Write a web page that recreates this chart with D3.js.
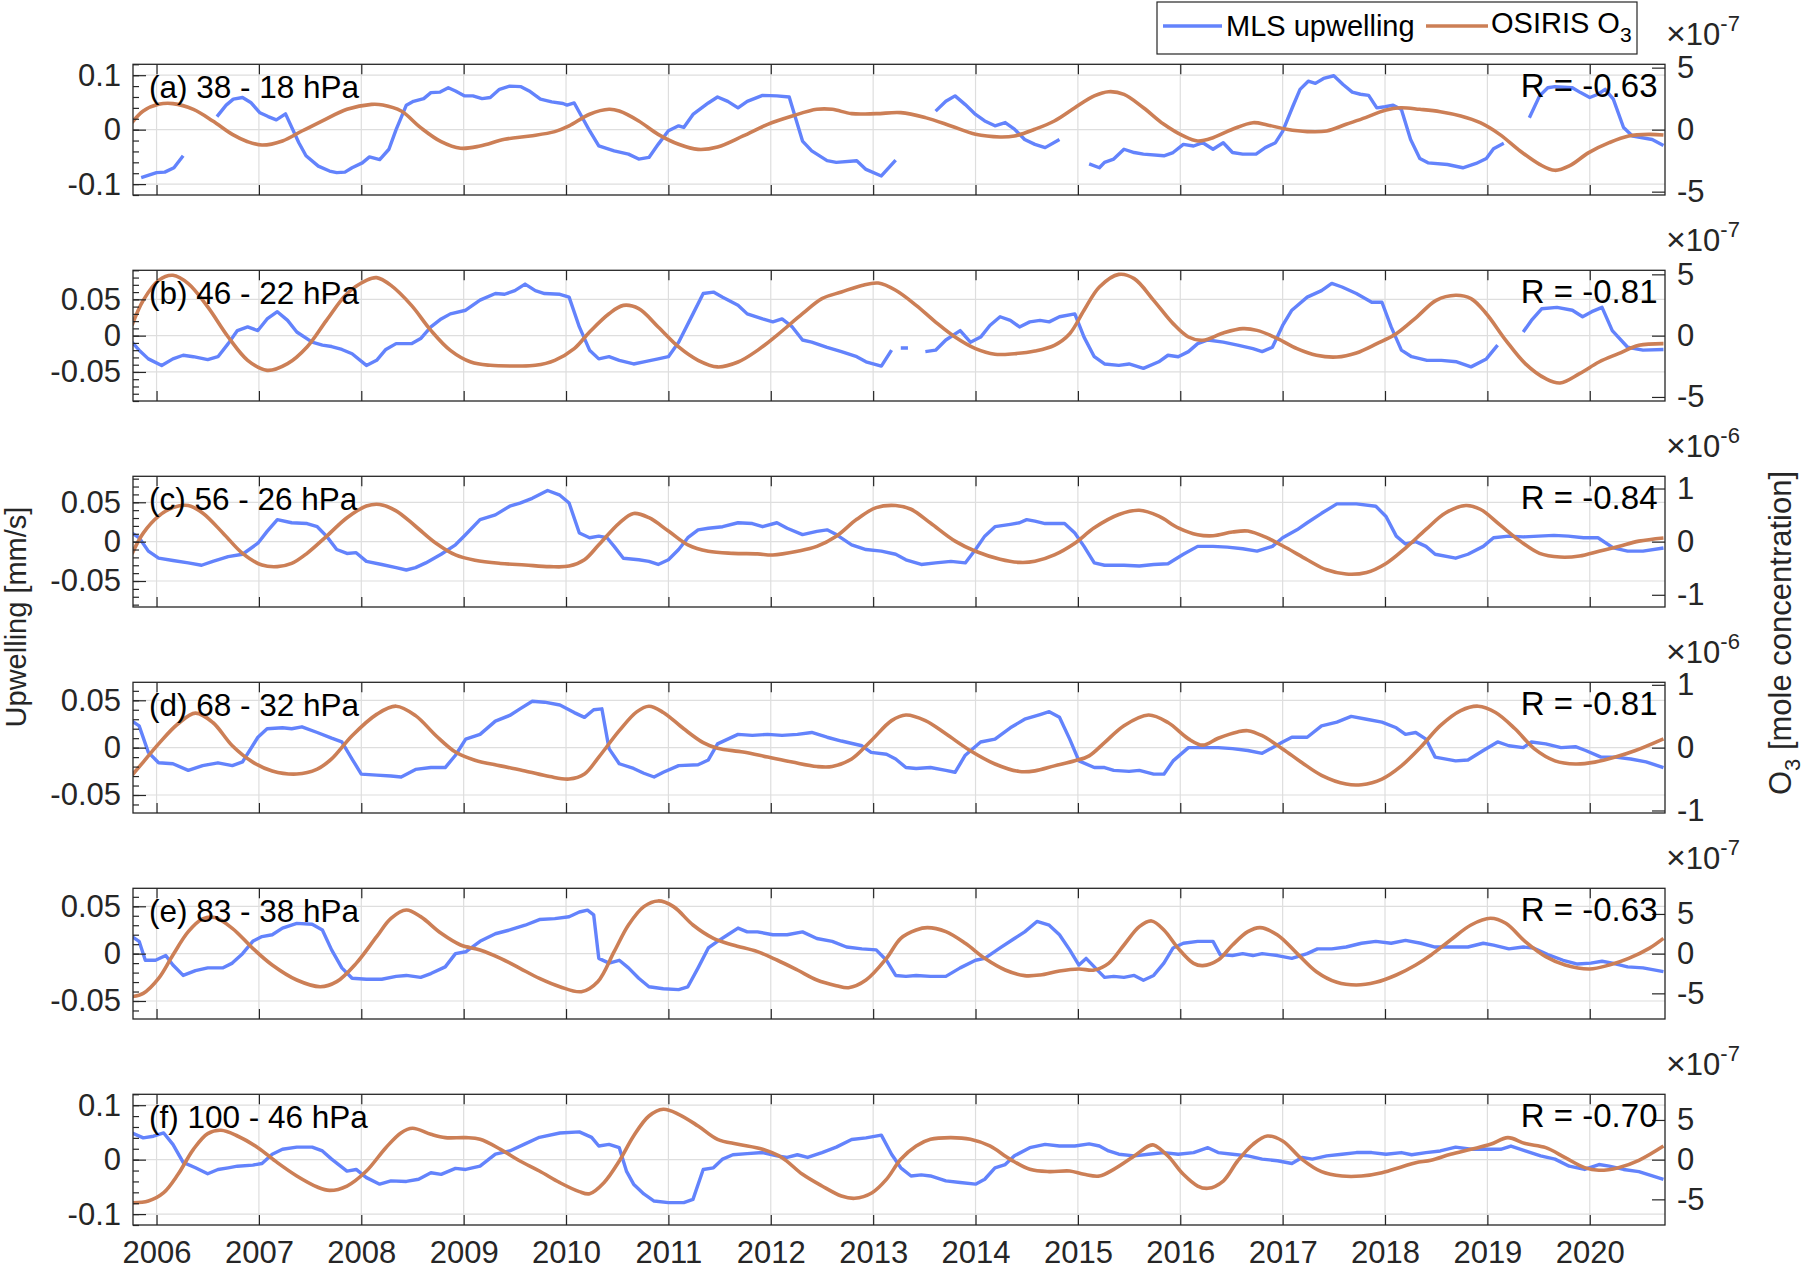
<!DOCTYPE html>
<html><head><meta charset="utf-8">
<script src="https://cdn.jsdelivr.net/npm/d3@7"></script>
<style>
body{margin:0;background:#fff}
text{font-family:"Liberation Sans",Arial,Helvetica,sans-serif}
</style>
</head><body>
<svg id="c" width="1805" height="1270"></svg>
<script>
// ---------- DATA ----------
const yearTicks = [2006,2007,2008,2009,2010,2011,2012,2013,2014,2015,2016,2017,2018,2019,2020];
const panelLabels = ["(a) 38 - 18 hPa","(b) 46 - 22 hPa","(c) 56 - 26 hPa","(d) 68 - 32 hPa","(e) 83 - 38 hPa","(f) 100 - 46 hPa"];
const rLabels = ["R = -0.63","R = -0.81","R = -0.84","R = -0.81","R = -0.63","R = -0.70"];
const o3Exponents = ["-7","-7","-6","-6","-7","-7"];
const leftTicks = [[-0.1,0,0.1],[-0.05,0,0.05],[-0.05,0,0.05],[-0.05,0,0.05],[-0.05,0,0.05],[-0.1,0,0.1]];
const rightTicks = [[-5,0,5],[-5,0,5],[-1,0,1],[-1,0,1],[-5,0,5],[-5,0,5]];
const leftLimits = [0.12,0.09,0.083,0.069,0.069,0.12];
const rightLimits = [5.27,5.33,1.23,1.04,8.23,8.23];
const minorSteps = [0.02,0.01,0.01,0.01,0.01,0.02];

// MLS upwelling [mm/s]  (null = data gap)
const mlsA = [[2005.85,-0.088],[2006.0,-0.079],[2006.08,-0.078],[2006.17,-0.070],[2006.26,-0.048],[2006.4,null],
[2006.59,0.024],[2006.68,0.045],[2006.75,0.056],[2006.84,0.059],[2006.92,0.050],[2007.01,0.031],[2007.09,0.024],[2007.17,0.018],[2007.26,0.029],[2007.39,-0.024],[2007.46,-0.048],[2007.58,-0.067],[2007.69,-0.076],[2007.76,-0.079],[2007.84,-0.078],[2007.91,-0.070],[2008.01,-0.061],[2008.08,-0.050],[2008.18,-0.055],[2008.27,-0.036],[2008.34,0.000],[2008.44,0.045],[2008.51,0.052],[2008.61,0.057],[2008.68,0.068],[2008.77,0.069],[2008.85,0.077],[2008.92,0.071],[2009.01,0.062],[2009.09,0.062],[2009.18,0.057],[2009.26,0.059],[2009.35,0.074],[2009.45,0.080],[2009.56,0.079],[2009.64,0.071],[2009.75,0.056],[2009.86,0.051],[2009.97,0.048],[2010.01,0.045],[2010.08,0.049],[2010.23,-0.002],[2010.32,-0.030],[2010.47,-0.039],[2010.61,-0.045],[2010.71,-0.054],[2010.81,-0.051],[2010.90,-0.027],[2011.00,-0.002],[2011.10,0.007],[2011.15,0.004],[2011.24,0.028],[2011.39,0.049],[2011.48,0.060],[2011.58,0.052],[2011.68,0.040],[2011.77,0.052],[2011.92,0.063],[2012.06,0.062],[2012.18,0.060],[2012.31,-0.021],[2012.40,-0.039],[2012.55,-0.057],[2012.64,-0.060],[2012.84,-0.057],[2012.93,-0.073],[2013.08,-0.085],[2013.22,-0.056],[2013.4,null],
[2013.61,0.034],[2013.71,0.052],[2013.80,0.062],[2013.90,0.046],[2014.00,0.028],[2014.09,0.016],[2014.19,0.007],[2014.29,0.013],[2014.38,0.001],[2014.48,-0.018],[2014.58,-0.027],[2014.68,-0.033],[2014.82,-0.018],[2015.0,null],
[2015.11,-0.063],[2015.21,-0.070],[2015.26,-0.060],[2015.35,-0.054],[2015.45,-0.036],[2015.55,-0.042],[2015.64,-0.045],[2015.84,-0.048],[2015.93,-0.042],[2016.03,-0.027],[2016.13,-0.030],[2016.22,-0.024],[2016.32,-0.036],[2016.42,-0.024],[2016.51,-0.042],[2016.61,-0.045],[2016.74,-0.045],[2016.83,-0.033],[2016.93,-0.024],[2017.00,-0.003],[2017.10,0.043],[2017.17,0.074],[2017.25,0.089],[2017.32,0.085],[2017.40,0.094],[2017.50,0.099],[2017.59,0.083],[2017.68,0.069],[2017.76,0.065],[2017.84,0.063],[2017.92,0.040],[2018.00,0.042],[2018.08,0.045],[2018.16,0.037],[2018.25,-0.018],[2018.34,-0.053],[2018.42,-0.061],[2018.61,-0.064],[2018.76,-0.070],[2018.89,-0.062],[2018.99,-0.053],[2019.06,-0.035],[2019.16,-0.025],[2019.3,null],
[2019.41,0.022],[2019.51,0.062],[2019.59,0.077],[2019.66,0.079],[2019.83,0.077],[2019.91,0.068],[2020.00,0.059],[2020.08,0.065],[2020.15,0.074],[2020.23,0.056],[2020.33,0.004],[2020.42,-0.012],[2020.61,-0.018],[2020.72,-0.029]];

const mlsB = [[2005.76,-0.009],[2005.83,-0.020],[2005.92,-0.032],[2006.05,-0.041],[2006.16,-0.032],[2006.26,-0.027],[2006.36,-0.029],[2006.50,-0.033],[2006.60,-0.029],[2006.70,-0.011],[2006.79,0.007],[2006.89,0.012],[2006.99,0.007],[2007.08,0.023],[2007.18,0.033],[2007.28,0.021],[2007.37,0.005],[2007.52,-0.009],[2007.62,-0.013],[2007.71,-0.015],[2007.81,-0.019],[2007.91,-0.025],[2008.05,-0.041],[2008.15,-0.034],[2008.24,-0.019],[2008.34,-0.011],[2008.49,-0.011],[2008.58,-0.004],[2008.68,0.012],[2008.78,0.023],[2008.87,0.030],[2009.02,0.035],[2009.16,0.049],[2009.31,0.058],[2009.40,0.057],[2009.50,0.062],[2009.60,0.071],[2009.70,0.062],[2009.79,0.058],[2009.94,0.057],[2010.03,0.053],[2010.13,0.012],[2010.23,-0.020],[2010.32,-0.032],[2010.42,-0.029],[2010.52,-0.034],[2010.66,-0.039],[2010.76,-0.036],[2010.90,-0.032],[2011.00,-0.029],[2011.10,-0.009],[2011.24,0.030],[2011.34,0.058],[2011.44,0.060],[2011.53,0.053],[2011.68,0.042],[2011.77,0.030],[2011.92,0.023],[2012.02,0.019],[2012.11,0.023],[2012.21,0.012],[2012.31,-0.006],[2012.40,-0.009],[2012.55,-0.016],[2012.69,-0.022],[2012.84,-0.029],[2012.93,-0.036],[2013.08,-0.042],[2013.18,-0.020],[2013.22,null],
[2013.27,-0.017],[2013.34,-0.017],[2013.4,null],
[2013.51,-0.022],[2013.61,-0.020],[2013.71,-0.006],[2013.85,0.007],[2013.95,-0.009],[2014.05,-0.002],[2014.14,0.014],[2014.24,0.026],[2014.34,0.021],[2014.43,0.012],[2014.53,0.019],[2014.63,0.021],[2014.72,0.019],[2014.82,0.026],[2014.97,0.030],[2015.06,-0.002],[2015.16,-0.029],[2015.26,-0.039],[2015.40,-0.041],[2015.50,-0.039],[2015.64,-0.045],[2015.79,-0.036],[2015.88,-0.027],[2015.98,-0.029],[2016.08,-0.022],[2016.17,-0.011],[2016.27,-0.006],[2016.42,-0.009],[2016.56,-0.013],[2016.71,-0.018],[2016.80,-0.022],[2016.90,-0.016],[2017.00,0.014],[2017.09,0.035],[2017.24,0.053],[2017.38,0.062],[2017.48,0.072],[2017.58,0.067],[2017.72,0.058],[2017.87,0.046],[2017.97,0.046],[2018.06,0.012],[2018.16,-0.020],[2018.26,-0.029],[2018.41,-0.034],[2018.55,-0.034],[2018.70,-0.036],[2018.84,-0.043],[2018.99,-0.032],[2019.10,-0.013],[2019.2,null],
[2019.35,0.005],[2019.43,0.021],[2019.53,0.037],[2019.68,0.039],[2019.83,0.035],[2019.93,0.026],[2020.02,0.033],[2020.12,0.039],[2020.22,0.007],[2020.37,-0.016],[2020.52,-0.020],[2020.72,-0.019]];

const mlsC = [[2005.76,0.011],[2005.83,0.005],[2005.92,-0.012],[2006.02,-0.021],[2006.16,-0.024],[2006.31,-0.027],[2006.44,-0.030],[2006.55,-0.025],[2006.70,-0.019],[2006.84,-0.016],[2006.99,-0.002],[2007.08,0.013],[2007.18,0.028],[2007.32,0.024],[2007.47,0.023],[2007.57,0.019],[2007.66,0.007],[2007.76,-0.010],[2007.86,-0.015],[2007.95,-0.014],[2008.05,-0.025],[2008.20,-0.029],[2008.34,-0.033],[2008.44,-0.036],[2008.53,-0.033],[2008.63,-0.027],[2008.78,-0.016],[2008.92,-0.004],[2009.02,0.009],[2009.16,0.028],[2009.31,0.034],[2009.45,0.045],[2009.55,0.049],[2009.67,0.055],[2009.82,0.065],[2009.94,0.059],[2010.03,0.049],[2010.13,0.011],[2010.23,0.005],[2010.32,0.007],[2010.40,0.005],[2010.47,-0.006],[2010.56,-0.021],[2010.71,-0.023],[2010.81,-0.025],[2010.90,-0.029],[2011.00,-0.023],[2011.10,-0.010],[2011.19,0.005],[2011.29,0.015],[2011.39,0.017],[2011.53,0.019],[2011.68,0.024],[2011.82,0.023],[2011.92,0.019],[2012.06,0.024],[2012.16,0.017],[2012.31,0.009],[2012.45,0.013],[2012.55,0.015],[2012.64,0.009],[2012.79,-0.004],[2012.93,-0.010],[2013.08,-0.012],[2013.22,-0.016],[2013.32,-0.023],[2013.47,-0.029],[2013.61,-0.027],[2013.76,-0.025],[2013.90,-0.027],[2014.00,-0.010],[2014.09,0.007],[2014.19,0.019],[2014.34,0.022],[2014.43,0.024],[2014.50,0.028],[2014.58,0.026],[2014.68,0.023],[2014.87,0.023],[2014.97,0.011],[2015.06,-0.006],[2015.16,-0.027],[2015.26,-0.030],[2015.45,-0.030],[2015.60,-0.031],[2015.74,-0.029],[2015.88,-0.028],[2016.03,-0.016],[2016.17,-0.006],[2016.32,-0.006],[2016.46,-0.007],[2016.61,-0.009],[2016.75,-0.012],[2016.90,-0.006],[2017.00,0.005],[2017.14,0.015],[2017.24,0.024],[2017.38,0.036],[2017.53,0.048],[2017.72,0.048],[2017.91,0.045],[2018.01,0.032],[2018.11,0.007],[2018.20,-0.003],[2018.30,0.000],[2018.40,-0.006],[2018.49,-0.016],[2018.69,-0.021],[2018.81,-0.016],[2018.96,-0.006],[2019.06,0.005],[2019.21,0.007],[2019.35,0.006],[2019.50,0.007],[2019.65,0.008],[2019.79,0.007],[2019.94,0.005],[2020.08,0.005],[2020.23,-0.008],[2020.37,-0.012],[2020.52,-0.012],[2020.72,-0.008]];

const mlsD = [[2005.76,0.028],[2005.83,0.023],[2005.92,-0.005],[2006.02,-0.016],[2006.16,-0.017],[2006.31,-0.024],[2006.45,-0.019],[2006.60,-0.016],[2006.74,-0.019],[2006.84,-0.015],[2006.99,0.011],[2007.08,0.020],[2007.23,0.021],[2007.32,0.020],[2007.42,0.022],[2007.57,0.016],[2007.71,0.010],[2007.81,0.006],[2007.91,-0.012],[2008.00,-0.028],[2008.15,-0.029],[2008.29,-0.030],[2008.39,-0.031],[2008.53,-0.023],[2008.68,-0.021],[2008.82,-0.021],[2008.92,-0.008],[2009.02,0.009],[2009.16,0.014],[2009.31,0.028],[2009.45,0.034],[2009.55,0.041],[2009.67,0.049],[2009.79,0.048],[2009.94,0.045],[2010.08,0.037],[2010.18,0.032],[2010.27,0.040],[2010.35,0.041],[2010.42,-0.001],[2010.52,-0.017],[2010.66,-0.022],[2010.76,-0.027],[2010.86,-0.031],[2010.95,-0.026],[2011.10,-0.019],[2011.29,-0.018],[2011.39,-0.013],[2011.48,0.004],[2011.58,0.009],[2011.68,0.014],[2011.82,0.013],[2011.97,0.014],[2012.11,0.013],[2012.26,0.014],[2012.40,0.016],[2012.55,0.011],[2012.69,0.007],[2012.89,0.002],[2012.98,-0.005],[2013.13,-0.007],[2013.22,-0.012],[2013.32,-0.021],[2013.42,-0.022],[2013.56,-0.021],[2013.71,-0.024],[2013.80,-0.026],[2013.90,-0.008],[2014.05,0.006],[2014.19,0.009],[2014.34,0.021],[2014.48,0.030],[2014.63,0.035],[2014.72,0.038],[2014.82,0.032],[2014.92,0.009],[2015.01,-0.014],[2015.16,-0.021],[2015.26,-0.021],[2015.35,-0.024],[2015.50,-0.025],[2015.60,-0.024],[2015.74,-0.028],[2015.84,-0.028],[2015.93,-0.014],[2016.08,0.000],[2016.22,0.000],[2016.37,0.000],[2016.51,-0.001],[2016.66,-0.003],[2016.80,-0.006],[2016.90,0.000],[2017.00,0.006],[2017.09,0.011],[2017.24,0.011],[2017.38,0.023],[2017.53,0.027],[2017.67,0.033],[2017.82,0.030],[2017.97,0.027],[2018.11,0.021],[2018.20,0.014],[2018.30,0.016],[2018.40,0.009],[2018.49,-0.010],[2018.69,-0.014],[2018.81,-0.013],[2018.96,-0.003],[2019.10,0.006],[2019.21,0.002],[2019.35,0.000],[2019.43,0.006],[2019.57,0.004],[2019.72,0.000],[2019.86,0.001],[2019.96,-0.003],[2020.11,-0.010],[2020.25,-0.010],[2020.40,-0.012],[2020.55,-0.015],[2020.72,-0.021]];

const mlsE = [[2005.76,0.018],[2005.83,0.013],[2005.89,-0.007],[2005.99,-0.007],[2006.09,-0.002],[2006.16,-0.012],[2006.26,-0.023],[2006.38,-0.018],[2006.50,-0.015],[2006.65,-0.015],[2006.74,-0.010],[2006.84,0.000],[2006.94,0.013],[2007.03,0.018],[2007.13,0.020],[2007.23,0.027],[2007.37,0.032],[2007.52,0.031],[2007.62,0.025],[2007.71,0.004],[2007.81,-0.015],[2007.91,-0.026],[2008.05,-0.027],[2008.20,-0.027],[2008.34,-0.024],[2008.44,-0.023],[2008.58,-0.025],[2008.68,-0.021],[2008.82,-0.014],[2008.92,0.000],[2009.02,0.002],[2009.16,0.013],[2009.31,0.021],[2009.45,0.025],[2009.60,0.030],[2009.74,0.036],[2009.89,0.037],[2010.03,0.039],[2010.13,0.044],[2010.21,0.046],[2010.27,0.041],[2010.32,-0.005],[2010.42,-0.010],[2010.52,-0.007],[2010.61,-0.015],[2010.71,-0.026],[2010.81,-0.035],[2010.95,-0.037],[2011.10,-0.038],[2011.19,-0.035],[2011.29,-0.015],[2011.39,0.006],[2011.48,0.013],[2011.58,0.020],[2011.68,0.027],[2011.77,0.023],[2011.87,0.023],[2012.02,0.020],[2012.16,0.020],[2012.31,0.023],[2012.45,0.016],[2012.60,0.013],[2012.74,0.007],[2012.89,0.005],[2013.03,0.004],[2013.13,-0.007],[2013.22,-0.023],[2013.32,-0.024],[2013.42,-0.023],[2013.56,-0.024],[2013.71,-0.024],[2013.85,-0.015],[2014.00,-0.007],[2014.09,-0.005],[2014.24,0.006],[2014.38,0.016],[2014.48,0.023],[2014.60,0.034],[2014.72,0.030],[2014.82,0.020],[2014.92,0.004],[2015.01,-0.012],[2015.08,-0.005],[2015.16,-0.014],[2015.26,-0.025],[2015.35,-0.024],[2015.45,-0.025],[2015.55,-0.023],[2015.64,-0.028],[2015.74,-0.023],[2015.84,-0.010],[2015.93,0.006],[2016.03,0.011],[2016.17,0.013],[2016.32,0.013],[2016.39,-0.001],[2016.51,-0.002],[2016.61,0.000],[2016.71,-0.002],[2016.80,0.000],[2016.95,-0.002],[2017.09,-0.005],[2017.24,0.000],[2017.34,0.005],[2017.48,0.005],[2017.62,0.007],[2017.77,0.011],[2017.91,0.013],[2018.06,0.011],[2018.20,0.014],[2018.35,0.011],[2018.49,0.007],[2018.69,0.007],[2018.81,0.007],[2018.96,0.011],[2019.06,0.009],[2019.21,0.005],[2019.35,0.007],[2019.45,0.006],[2019.59,-0.001],[2019.74,-0.007],[2019.88,-0.011],[2020.01,-0.010],[2020.12,-0.008],[2020.22,-0.010],[2020.37,-0.014],[2020.52,-0.015],[2020.72,-0.019]];

const mlsF = [[2005.76,0.049],[2005.87,0.040],[2005.97,0.043],[2006.07,0.049],[2006.16,0.028],[2006.26,-0.005],[2006.38,-0.015],[2006.50,-0.026],[2006.60,-0.018],[2006.70,-0.015],[2006.79,-0.012],[2006.94,-0.010],[2007.03,-0.007],[2007.13,0.010],[2007.23,0.019],[2007.37,0.023],[2007.52,0.023],[2007.62,0.016],[2007.71,0.001],[2007.86,-0.021],[2007.95,-0.018],[2008.05,-0.033],[2008.18,-0.045],[2008.29,-0.039],[2008.44,-0.040],[2008.56,-0.036],[2008.68,-0.024],[2008.78,-0.027],[2008.92,-0.016],[2009.02,-0.018],[2009.16,-0.012],[2009.31,0.010],[2009.45,0.016],[2009.60,0.029],[2009.74,0.041],[2009.94,0.049],[2010.13,0.051],[2010.25,0.041],[2010.32,0.025],[2010.42,0.028],[2010.52,0.022],[2010.59,-0.021],[2010.66,-0.045],[2010.76,-0.063],[2010.86,-0.076],[2011.00,-0.079],[2011.15,-0.079],[2011.24,-0.073],[2011.34,-0.018],[2011.44,-0.015],[2011.53,0.001],[2011.63,0.009],[2011.77,0.011],[2011.92,0.013],[2012.06,0.007],[2012.16,0.004],[2012.26,0.009],[2012.36,0.004],[2012.50,0.013],[2012.64,0.023],[2012.79,0.037],[2012.93,0.040],[2013.08,0.045],[2013.18,0.010],[2013.27,-0.015],[2013.37,-0.030],[2013.47,-0.028],[2013.56,-0.030],[2013.71,-0.039],[2013.85,-0.042],[2014.00,-0.045],[2014.09,-0.036],[2014.19,-0.015],[2014.29,-0.009],[2014.38,0.007],[2014.53,0.022],[2014.68,0.028],[2014.82,0.025],[2014.97,0.025],[2015.11,0.029],[2015.21,0.025],[2015.30,0.016],[2015.40,0.010],[2015.55,0.007],[2015.69,0.010],[2015.84,0.013],[2015.98,0.010],[2016.13,0.013],[2016.27,0.022],[2016.37,0.013],[2016.51,0.010],[2016.66,0.007],[2016.80,0.001],[2016.95,-0.002],[2017.09,-0.007],[2017.19,0.004],[2017.29,0.001],[2017.43,0.007],[2017.58,0.010],[2017.72,0.013],[2017.87,0.013],[2018.01,0.010],[2018.16,0.013],[2018.26,0.009],[2018.40,0.013],[2018.54,0.016],[2018.69,0.023],[2018.84,0.019],[2018.99,0.019],[2019.13,0.019],[2019.23,0.025],[2019.37,0.016],[2019.52,0.007],[2019.66,0.001],[2019.80,-0.012],[2019.95,-0.018],[2020.09,-0.009],[2020.19,-0.012],[2020.33,-0.018],[2020.48,-0.022],[2020.72,-0.036]];

// OSIRIS O3 [mole concentration] in units of the panel exponent
const osiA = [[2005.76,0.56],[2005.87,1.5],[2006.02,2.04],[2006.16,2.1],[2006.36,1.64],[2006.55,0.7],[2006.74,-0.38],[2006.89,-0.97],[2007.03,-1.24],[2007.23,-0.91],[2007.42,-0.11],[2007.62,0.7],[2007.86,1.64],[2008.10,2.04],[2008.21,1.99],[2008.39,1.5],[2008.58,0.16],[2008.78,-0.97],[2008.97,-1.5],[2009.16,-1.32],[2009.40,-0.78],[2009.65,-0.51],[2009.89,-0.16],[2010.03,0.30],[2010.23,1.24],[2010.42,1.64],[2010.52,1.5],[2010.71,0.70],[2010.90,-0.38],[2011.10,-1.18],[2011.29,-1.59],[2011.48,-1.40],[2011.73,-0.51],[2011.97,0.43],[2012.21,1.10],[2012.45,1.64],[2012.60,1.64],[2012.79,1.29],[2013.03,1.29],[2013.27,1.37],[2013.51,0.97],[2013.76,0.30],[2014.00,-0.38],[2014.24,-0.59],[2014.38,-0.51],[2014.58,0.03],[2014.77,0.70],[2014.97,1.77],[2015.16,2.72],[2015.30,3.06],[2015.45,2.85],[2015.64,1.77],[2015.84,0.43],[2016.03,-0.51],[2016.17,-0.91],[2016.32,-0.65],[2016.51,0.03],[2016.71,0.56],[2016.85,0.38],[2017.04,0.03],[2017.24,-0.16],[2017.43,-0.11],[2017.62,0.43],[2017.81,0.97],[2018.00,1.56],[2018.15,1.77],[2018.34,1.64],[2018.54,1.45],[2018.74,1.10],[2018.93,0.56],[2019.12,-0.38],[2019.32,-1.72],[2019.51,-2.80],[2019.66,-3.28],[2019.80,-2.93],[2019.99,-1.85],[2020.19,-1.05],[2020.38,-0.51],[2020.58,-0.38],[2020.72,-0.43]];

const osiB = [[2005.76,0.84],[2005.87,2.88],[2006.02,4.51],[2006.16,4.92],[2006.31,4.24],[2006.50,2.34],[2006.70,-0.11],[2006.89,-2.01],[2007.08,-2.83],[2007.28,-2.28],[2007.47,-0.92],[2007.66,1.25],[2007.86,3.42],[2008.05,4.51],[2008.15,4.73],[2008.29,4.10],[2008.49,2.47],[2008.68,0.43],[2008.87,-1.20],[2009.07,-2.15],[2009.26,-2.42],[2009.50,-2.47],[2009.70,-2.42],[2009.89,-2.01],[2010.08,-1.06],[2010.23,0.30],[2010.42,1.79],[2010.56,2.47],[2010.71,2.20],[2010.90,0.71],[2011.10,-0.92],[2011.29,-2.01],[2011.48,-2.55],[2011.68,-2.15],[2011.87,-1.20],[2012.06,0.03],[2012.31,1.79],[2012.50,3.02],[2012.69,3.56],[2012.89,4.10],[2013.05,4.29],[2013.22,3.70],[2013.42,2.47],[2013.61,1.11],[2013.80,-0.11],[2014.00,-1.06],[2014.19,-1.52],[2014.38,-1.47],[2014.58,-1.25],[2014.77,-0.79],[2014.92,0.16],[2015.06,2.07],[2015.21,3.97],[2015.40,5.0],[2015.55,4.65],[2015.74,2.88],[2015.93,0.98],[2016.08,-0.11],[2016.22,-0.38],[2016.42,0.22],[2016.61,0.57],[2016.75,0.43],[2016.95,-0.24],[2017.14,-1.06],[2017.33,-1.60],[2017.53,-1.74],[2017.72,-1.41],[2017.92,-0.65],[2018.11,0.16],[2018.31,1.52],[2018.50,2.88],[2018.69,3.29],[2018.84,3.02],[2018.99,1.79],[2019.18,-0.38],[2019.37,-2.28],[2019.57,-3.51],[2019.71,-3.86],[2019.90,-3.10],[2020.09,-2.15],[2020.28,-1.47],[2020.48,-0.79],[2020.72,-0.65]];

const osiC = [[2005.76,-0.23],[2005.87,0.16],[2006.02,0.48],[2006.16,0.64],[2006.31,0.68],[2006.45,0.54],[2006.65,0.16],[2006.84,-0.22],[2007.03,-0.44],[2007.18,-0.47],[2007.32,-0.41],[2007.47,-0.22],[2007.66,0.10],[2007.86,0.45],[2008.05,0.67],[2008.18,0.70],[2008.34,0.58],[2008.53,0.29],[2008.73,-0.03],[2008.92,-0.25],[2009.11,-0.35],[2009.36,-0.41],[2009.60,-0.44],[2009.84,-0.47],[2010.03,-0.46],[2010.18,-0.34],[2010.32,-0.06],[2010.52,0.35],[2010.66,0.53],[2010.81,0.45],[2011.00,0.20],[2011.19,-0.06],[2011.39,-0.18],[2011.63,-0.22],[2011.87,-0.23],[2012.02,-0.25],[2012.26,-0.18],[2012.45,-0.09],[2012.64,0.10],[2012.84,0.42],[2013.03,0.64],[2013.22,0.68],[2013.37,0.61],[2013.56,0.35],[2013.80,0.01],[2014.00,-0.18],[2014.24,-0.33],[2014.43,-0.39],[2014.58,-0.37],[2014.77,-0.25],[2014.97,-0.03],[2015.16,0.26],[2015.40,0.51],[2015.60,0.59],[2015.79,0.48],[2015.98,0.26],[2016.17,0.13],[2016.32,0.11],[2016.51,0.18],[2016.66,0.20],[2016.85,0.07],[2017.04,-0.12],[2017.24,-0.34],[2017.43,-0.53],[2017.62,-0.61],[2017.82,-0.58],[2018.01,-0.41],[2018.20,-0.12],[2018.40,0.23],[2018.59,0.54],[2018.79,0.68],[2018.93,0.61],[2019.12,0.32],[2019.32,0.01],[2019.51,-0.22],[2019.71,-0.29],[2019.90,-0.27],[2020.09,-0.18],[2020.28,-0.09],[2020.48,0.01],[2020.72,0.07]];

const osiD = [[2005.76,-0.44],[2005.87,-0.23],[2006.02,0.06],[2006.21,0.38],[2006.38,0.55],[2006.55,0.40],[2006.74,0.03],[2006.94,-0.23],[2007.13,-0.37],[2007.37,-0.42],[2007.57,-0.34],[2007.71,-0.18],[2007.91,0.19],[2008.15,0.53],[2008.34,0.66],[2008.53,0.51],[2008.73,0.19],[2008.92,-0.07],[2009.11,-0.20],[2009.36,-0.29],[2009.60,-0.37],[2009.84,-0.46],[2010.03,-0.50],[2010.18,-0.42],[2010.32,-0.15],[2010.52,0.27],[2010.69,0.57],[2010.81,0.66],[2010.95,0.56],[2011.15,0.30],[2011.34,0.08],[2011.48,-0.01],[2011.73,-0.07],[2011.97,-0.15],[2012.21,-0.23],[2012.45,-0.30],[2012.60,-0.30],[2012.79,-0.18],[2012.98,0.11],[2013.18,0.43],[2013.32,0.52],[2013.51,0.43],[2013.71,0.22],[2013.95,-0.05],[2014.19,-0.26],[2014.43,-0.38],[2014.58,-0.37],[2014.77,-0.29],[2014.97,-0.21],[2015.11,-0.13],[2015.26,0.08],[2015.45,0.35],[2015.69,0.52],[2015.88,0.40],[2016.08,0.14],[2016.22,0.04],[2016.37,0.15],[2016.56,0.25],[2016.66,0.27],[2016.80,0.19],[2017.00,-0.02],[2017.19,-0.24],[2017.38,-0.44],[2017.62,-0.58],[2017.77,-0.59],[2017.97,-0.50],[2018.16,-0.29],[2018.35,0.01],[2018.54,0.35],[2018.74,0.59],[2018.91,0.66],[2019.08,0.56],[2019.27,0.30],[2019.46,-0.02],[2019.66,-0.21],[2019.86,-0.26],[2020.05,-0.23],[2020.25,-0.15],[2020.44,-0.05],[2020.72,0.14]];

const osiE = [[2005.76,-5.42],[2005.87,-5.0],[2006.02,-3.11],[2006.16,-0.17],[2006.31,2.77],[2006.45,4.37],[2006.57,4.54],[2006.74,3.19],[2006.94,0.67],[2007.13,-1.43],[2007.37,-3.32],[2007.60,-4.16],[2007.76,-3.53],[2007.95,-1.22],[2008.15,2.14],[2008.29,4.45],[2008.44,5.50],[2008.58,4.66],[2008.78,2.56],[2008.97,1.09],[2009.16,0.46],[2009.36,-0.59],[2009.55,-1.85],[2009.74,-3.11],[2009.94,-4.16],[2010.15,-4.79],[2010.31,-3.53],[2010.47,0.25],[2010.61,3.61],[2010.76,5.92],[2010.90,6.64],[2011.05,5.92],[2011.24,3.61],[2011.44,1.93],[2011.63,1.09],[2011.87,0.25],[2012.06,-0.80],[2012.26,-2.06],[2012.45,-3.32],[2012.64,-4.03],[2012.76,-4.29],[2012.93,-3.32],[2013.13,-0.59],[2013.27,1.93],[2013.42,2.98],[2013.53,3.28],[2013.71,2.77],[2013.90,1.30],[2014.09,-0.59],[2014.29,-2.06],[2014.48,-2.77],[2014.63,-2.69],[2014.82,-2.18],[2015.01,-1.93],[2015.16,-2.06],[2015.30,-1.22],[2015.45,1.09],[2015.60,3.40],[2015.72,4.12],[2015.84,2.98],[2015.98,0.67],[2016.13,-1.22],[2016.22,-1.51],[2016.37,-0.80],[2016.51,1.09],[2016.66,2.77],[2016.78,3.28],[2016.95,2.35],[2017.14,0.04],[2017.33,-2.27],[2017.53,-3.61],[2017.72,-3.95],[2017.91,-3.61],[2018.11,-2.69],[2018.30,-1.43],[2018.45,-0.17],[2018.64,1.72],[2018.84,3.61],[2019.03,4.45],[2019.18,3.82],[2019.37,1.51],[2019.57,-0.38],[2019.76,-1.43],[2020.00,-1.93],[2020.19,-1.43],[2020.38,-0.59],[2020.58,0.67],[2020.72,1.93]];

const osiF = [[2005.76,-5.42],[2005.92,-5.21],[2006.07,-4.16],[2006.21,-1.85],[2006.36,1.30],[2006.50,3.28],[2006.63,3.70],[2006.79,2.98],[2006.99,1.51],[2007.18,-0.38],[2007.37,-2.06],[2007.57,-3.45],[2007.69,-3.87],[2007.86,-3.32],[2008.05,-1.43],[2008.24,1.51],[2008.39,3.40],[2008.50,3.95],[2008.68,3.19],[2008.82,2.77],[2009.02,2.77],[2009.16,2.56],[2009.36,1.30],[2009.55,-0.17],[2009.74,-1.43],[2009.94,-2.90],[2010.13,-4.03],[2010.23,-4.29],[2010.37,-2.90],[2010.52,-0.17],[2010.66,2.98],[2010.81,5.50],[2010.95,6.34],[2011.10,5.71],[2011.29,4.24],[2011.48,2.56],[2011.68,1.93],[2011.92,1.30],[2012.11,0.25],[2012.31,-1.85],[2012.50,-3.32],[2012.69,-4.58],[2012.82,-4.87],[2012.99,-4.16],[2013.13,-2.48],[2013.27,0.04],[2013.42,1.72],[2013.56,2.56],[2013.76,2.77],[2013.95,2.56],[2014.14,1.72],[2014.34,0.04],[2014.53,-1.22],[2014.72,-1.51],[2014.92,-1.43],[2015.06,-1.85],[2015.21,-2.06],[2015.35,-1.22],[2015.55,0.46],[2015.69,1.72],[2015.74,1.85],[2015.88,0.46],[2016.03,-1.85],[2016.17,-3.32],[2016.27,-3.61],[2016.42,-2.69],[2016.56,-0.17],[2016.71,1.93],[2016.85,2.98],[2017.00,2.35],[2017.19,0.04],[2017.38,-1.51],[2017.58,-2.06],[2017.77,-2.06],[2017.97,-1.64],[2018.16,-0.92],[2018.30,-0.38],[2018.45,-0.08],[2018.64,0.67],[2018.84,1.30],[2019.03,1.93],[2019.20,2.77],[2019.37,2.02],[2019.57,1.51],[2019.76,0.25],[2019.95,-1.01],[2020.09,-1.34],[2020.28,-1.01],[2020.48,-0.08],[2020.72,1.72]];

const mlsSeries = [mlsA,mlsB,mlsC,mlsD,mlsE,mlsF];
const osiSeries = [osiA,osiB,osiC,osiD,osiE,osiF];

// ---------- LAYOUT ----------
const PL = 133, PR = 1665, PH = 130.7;
const tops = [64.3,270.3,476.3,682.3,888.3,1094.3];
const BLUE = "#6383fc", ORANGE = "#cc7f56", AX = "#262626", GRID = "#dedede";
const FS = 31;

const svg = d3.select("#c");
const x = d3.scaleLinear().domain([2005.77, 2020.735]).range([PL, PR]);
const defs = svg.append("defs");

function styleAxis(g){
  g.select(".domain").remove();
  g.selectAll(".tick line").attr("stroke", AX).attr("stroke-width", 1.2);
  g.selectAll(".tick text").attr("fill", AX).attr("font-size", FS)
   .attr("font-family", '"Liberation Sans",Arial,Helvetica,sans-serif');
}

mlsSeries.forEach((mls, i) => {
  const top = tops[i], bot = top + PH;
  const yl = d3.scaleLinear().domain([-leftLimits[i], leftLimits[i]]).range([bot, top]);
  const yr = d3.scaleLinear().domain([-rightLimits[i], rightLimits[i]]).range([bot, top]);
  const g = svg.append("g");

  // grid
  g.selectAll(null).data(yearTicks).enter().append("line")
    .attr("x1", d => x(d)).attr("x2", d => x(d)).attr("y1", top).attr("y2", bot)
    .attr("stroke", GRID).attr("stroke-width", 1.2);
  g.selectAll(null).data(leftTicks[i]).enter().append("line")
    .attr("x1", PL).attr("x2", PR).attr("y1", d => yl(d)).attr("y2", d => yl(d))
    .attr("stroke", GRID).attr("stroke-width", 1.2);

  // clip
  defs.append("clipPath").attr("id", "clip" + i).append("rect")
    .attr("x", PL).attr("y", top).attr("width", PR - PL).attr("height", PH);

  const lineB = d3.line().defined(d => d[1] !== null).x(d => x(d[0])).y(d => yl(d[1]));
  const lineO = d3.line().x(d => x(d[0])).y(d => yr(d[1])).curve(d3.curveCatmullRom.alpha(0.5));

  g.append("path").attr("d", lineB(mls)).attr("clip-path", `url(#clip${i})`)
    .attr("fill", "none").attr("stroke", BLUE).attr("stroke-width", 3.4)
    .attr("stroke-linejoin", "round");
  g.append("path").attr("d", lineO(osiSeries[i])).attr("clip-path", `url(#clip${i})`)
    .attr("fill", "none").attr("stroke", ORANGE).attr("stroke-width", 3.6)
    .attr("stroke-linejoin", "round");

  // axes
  const xb = g.append("g").attr("transform", `translate(0,${bot})`)
    .call(d3.axisBottom(x).tickValues(yearTicks).tickSize(-10).tickPadding(16)
      .tickFormat(i === 5 ? d => String(d) : () => ""));
  styleAxis(xb);
  const xt = g.append("g").attr("transform", `translate(0,${top})`)
    .call(d3.axisTop(x).tickValues(yearTicks).tickSize(-10).tickFormat(() => ""));
  styleAxis(xt);

  const minor = d3.range(-Math.floor(leftLimits[i] / minorSteps[i] + 1e-9), Math.floor(leftLimits[i] / minorSteps[i] + 1e-9) + 1)
    .map(k => +(k * minorSteps[i]).toFixed(4));
  const ym = g.append("g").attr("transform", `translate(${PL},0)`)
    .call(d3.axisLeft(yl).tickValues(minor).tickSize(-6).tickFormat(() => ""));
  styleAxis(ym);
  const ylA = g.append("g").attr("transform", `translate(${PL},0)`)
    .call(d3.axisLeft(yl).tickValues(leftTicks[i]).tickSize(-13).tickPadding(12).tickFormat(d => String(d)));
  styleAxis(ylA);
  const yrA = g.append("g").attr("transform", `translate(${PR},0)`)
    .call(d3.axisRight(yr).tickValues(rightTicks[i]).tickSize(-13).tickPadding(12).tickFormat(d => String(d)));
  styleAxis(yrA);

  // box
  g.append("rect").attr("x", PL).attr("y", top).attr("width", PR - PL).attr("height", PH)
    .attr("fill", "none").attr("stroke", AX).attr("stroke-width", 1.3);

  // labels
  g.append("text").attr("x", PL + 16).attr("y", top + 34).attr("font-size", 31.5).attr("fill", "#000")
    .text(panelLabels[i]);
  g.append("text").attr("x", PR - 7.5).attr("y", top + 33).attr("font-size", 33).attr("fill", "#000")
    .attr("text-anchor", "end").text(rLabels[i]);

  // exponent
  const ex = g.append("text").attr("x", 1666).attr("y", top - 19).attr("font-size", 31).attr("fill", AX);
  ex.append("tspan").attr("font-size", 34).text("\u00d7");
  ex.append("tspan").text("10");
  ex.append("tspan").attr("font-size", 22).attr("dy", -14).text(o3Exponents[i]);
});

// axis titles
svg.append("text").attr("transform", "translate(26,617) rotate(-90)").attr("text-anchor", "middle")
  .attr("font-size", 29).attr("fill", AX).text("Upwelling [mm/s]");
const rt = svg.append("text").attr("transform", "translate(1791,633) rotate(-90)").attr("text-anchor", "middle")
  .attr("font-size", 31).attr("fill", AX);
rt.append("tspan").text("O");
rt.append("tspan").attr("font-size", 22).attr("dy", 9).text("3");
rt.append("tspan").attr("dy", -9).text(" [mole concentration]");

// legend
const lg = svg.append("g");
lg.append("rect").attr("x", 1157).attr("y", 2).attr("width", 480).attr("height", 52)
  .attr("fill", "#fff").attr("stroke", AX).attr("stroke-width", 1.2);
lg.append("line").attr("x1", 1163).attr("x2", 1222).attr("y1", 26).attr("y2", 26)
  .attr("stroke", BLUE).attr("stroke-width", 3.4);
lg.append("text").attr("x", 1226).attr("y", 36).attr("font-size", 29).attr("fill", "#000").text("MLS upwelling");
lg.append("line").attr("x1", 1426).attr("x2", 1488).attr("y1", 26).attr("y2", 26)
  .attr("stroke", ORANGE).attr("stroke-width", 3.6);
const lt = lg.append("text").attr("x", 1491).attr("y", 33).attr("font-size", 29).attr("fill", "#000");
lt.append("tspan").text("OSIRIS O");
lt.append("tspan").attr("font-size", 21).attr("dy", 9).text("3");
</script>
</body></html>
